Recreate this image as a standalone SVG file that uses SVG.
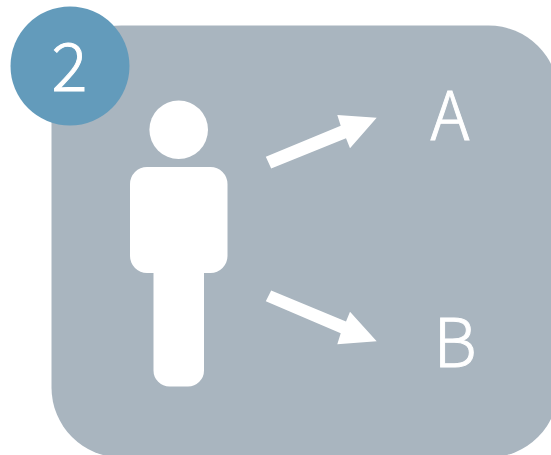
<svg xmlns="http://www.w3.org/2000/svg" width="551" height="455" viewBox="0 0 551 455">
  <style>
    .w{fill:#ffffff}
    .t{fill:#ffffff;stroke:#ffffff;stroke-width:0.9px;font-family:"Noto Sans CJK SC","Noto Sans",sans-serif;font-weight:300;font-size:67px;text-anchor:middle}
  </style>
  <rect width="551" height="455" fill="#ffffff"/>
  <g id="panel"><rect x="51.500" y="25.500" width="507" height="432" rx="70" ry="70" fill="#a9b5bf"/></g>
  <g id="badge"><circle cx="70" cy="66" r="59.500" fill="#639bbb"/><text class="t" x="69.500" y="91">2</text></g>
  <g id="person">
    <circle class="w" cx="178.700" cy="129.800" r="29.300"/>
    <path class="w" d="M147 167H210.500A17 17 0 0 1 227.500 184V256A17 17 0 0 1 210.500 273H204V370.500A16 16 0 0 1 188 386.500H169.500A16 16 0 0 1 153.500 370.500V273H147A17 17 0 0 1 130 256V184A17 17 0 0 1 147 167Z"/>
  </g>
  <g id="connectors">
    <polygon class="w" points="265.800,156.800 340.700,125.800 337.300,115 376.700,117.700 350,148.300 346,138.300 271.200,168.600"/>
    <polygon class="w" points="271.200,290.400 346,321.400 350,311.700 376.700,341.300 337.300,344.300 340.700,333.300 265.800,301.200"/>
  </g>
  <g id="label-a"><text class="t" x="450" y="140">A</text></g>
  <g id="label-b"><text class="t" x="455" y="367">B</text></g>
</svg>
